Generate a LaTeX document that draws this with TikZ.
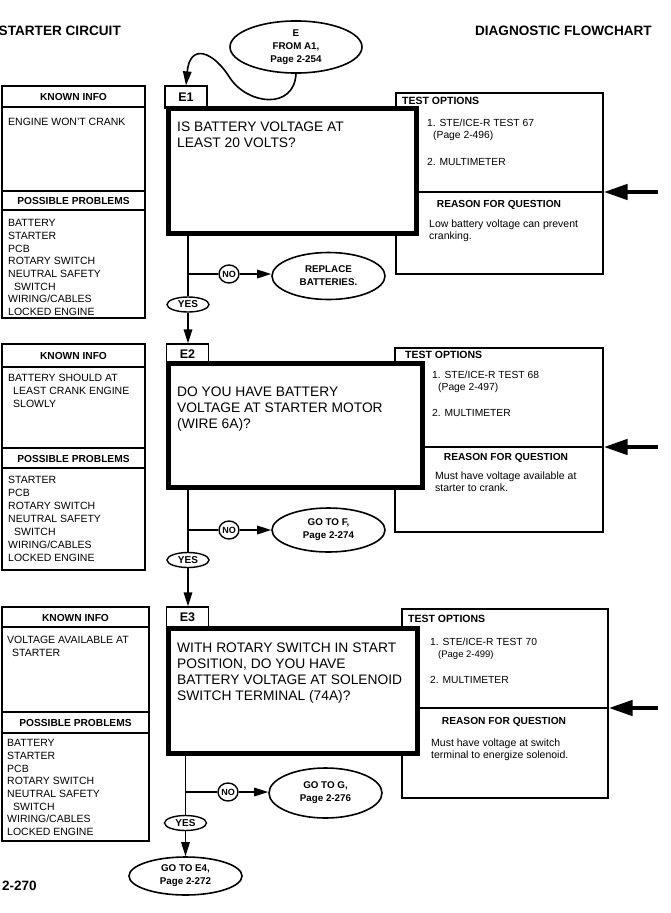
\documentclass[tikz,border=0pt]{standalone}
\usepackage{fontspec}
\setmainfont{Liberation Sans}
\usetikzlibrary{arrows.meta,shapes.geometric}
\begin{document}
\begin{tikzpicture}[x=1pt,y=-1pt,
  ln/.style={line width=1.2pt},
  conn/.style={line width=1.6pt},
  arr/.style={line width=1.6pt,-{Triangle[length=14pt,width=8.5pt]}},
  bigarr/.style={line width=4.5pt,-{Triangle[length=24pt,width=15pt]}},
  heavy/.style={draw,line width=5pt,fill=white,rectangle,inner sep=0},
  lab/.style={draw,line width=1.2pt,rectangle,inner sep=0,minimum width=42pt,font=\bfseries\fontsize{12.5}{14}\selectfont},
  tbox/.style={draw,line width=1.2pt,rectangle,inner sep=0},
  oval/.style={draw,line width=1.6pt,ellipse,inner sep=1pt,align=center,font=\bfseries\fontsize{9.8}{13}\selectfont},
  yesnode/.style={draw,line width=1.4pt,ellipse,inner sep=0,minimum width=42pt,minimum height=15pt,font=\bfseries\fontsize{10}{12}\selectfont},
  nonode/.style={draw,line width=1.4pt,ellipse,inner sep=0,minimum width=20pt,minimum height=18pt,font=\bfseries\fontsize{9}{11}\selectfont},
  hdr/.style={inner sep=0,font=\bfseries\fontsize{10.2}{12}\selectfont},
  thdr/.style={inner sep=0,anchor=west,font=\bfseries\fontsize{10.5}{12}\selectfont},
  body/.style={inner sep=0,anchor=north west,align=left,font=\fontsize{10.5}{12.7}\selectfont},
  opt/.style={inner sep=0,anchor=north west,align=left,font=\fontsize{10.3}{12}\selectfont},
  ques/.style={inner sep=0,anchor=north west,align=left,font=\fontsize{13.8}{15.7}\selectfont},
  ttl/.style={inner sep=0,font=\bfseries\fontsize{13.6}{16}\selectfont},
]
\useasboundingbox (0,0) rectangle (671,913);
\fill[white] (0,0) rectangle (671,913);

% titles
\node[ttl,anchor=west] (t_left) at (-1.5,31) {STARTER CIRCUIT};
\node[ttl,anchor=east] (t_right) at (652,31) {DIAGNOSTIC FLOWCHART};
\node[ttl,anchor=west,font=\bfseries\fontsize{13.5}{16}\selectfont] (pg) at (2,886) {2-270};

% ===== Section E1 =====
\draw[ln] (2,86) rectangle (145,318);
\draw[ln] (2,107) -- (145,107);
\draw[ln] (2,191) -- (145,191);
\draw[ln] (2,210) -- (145,210);
\node[hdr] (ki1) at (73.5,97) {KNOWN INFO};
\node[body] (kt1) at (8,118.2) {ENGINE WON'T CRANK};
\node[hdr] (pp1) at (73.5,200.5) {POSSIBLE PROBLEMS};
\node[body] (pl1) at (8,219.2) {BATTERY\\STARTER\\PCB\\ROTARY SWITCH\\NEUTRAL SAFETY\\\hspace*{6pt}SWITCH\\WIRING/CABLES\\LOCKED ENGINE};

\node[tbox,minimum width=207pt,minimum height=181pt] (t1) at (499.5,183.5) {};
\draw[ln] (396,192) -- (603,192);
\node[thdr] (to1) at (402,101) {TEST OPTIONS};
\node[opt] (o1) at (427,119.3) {1. STE/ICE-R TEST 67\\\hspace*{6pt}(Page 2-496)};
\node[opt] (m1) at (427,158.3) {2. MULTIMETER};
\node[hdr] (rq1) at (499,205) {REASON FOR QUESTION};
\node[body,font=\fontsize{10.5}{12}\selectfont] (rb1) at (429,219.2) {Low battery voltage can prevent\\cranking.};

\node[lab,minimum height=22pt] (l1) at (186,97) {E1};
\node[heavy,minimum width=248pt,minimum height=125pt] (q1) at (292,170.5) {};
\node[ques] (qt1) at (177,122.1) {IS BATTERY VOLTAGE AT\\LEAST 20 VOLTS?};

\node[oval,minimum width=132pt,minimum height=47pt] (st) at (296,47) {E\\FROM A1,\\Page 2-254};
\draw[arr] (st.south) .. controls (294,110) and (248,105) .. (230,78) .. controls (214,52) and (190,42) .. (l1.north);

\node[yesnode] (y1) at (188,304.5) {YES};
\node[nonode] (n1) at (229,274) {NO};
\node[oval,minimum width=113pt,minimum height=47pt] (r1) at (328.5,276) {REPLACE\\BATTERIES.};
\draw[conn] (q1.south -| y1) -- (y1.north);
\draw[conn] (y1 |- n1) -- (n1.west);
\draw[arr] (n1.east) -- (r1.west |- n1);
\coordinate (a1) at (658,192);
\draw[bigarr] (a1) -- (t1.east |- a1);

% ===== Section E2 =====
\draw[ln] (2,344) rectangle (145,570);
\draw[ln] (2,367) -- (145,367);
\draw[ln] (2,448) -- (145,448);
\draw[ln] (2,468) -- (145,468);
\node[hdr] (ki2) at (73.5,356) {KNOWN INFO};
\node[body] (kt2) at (8,374.2) {BATTERY SHOULD AT\\\hspace*{5pt}LEAST CRANK ENGINE\\\hspace*{5pt}SLOWLY};
\node[hdr] (pp2) at (73.5,458.5) {POSSIBLE PROBLEMS};
\node[body,font=\fontsize{10.5}{13}\selectfont] (pl2) at (8,476.2) {STARTER\\PCB\\ROTARY SWITCH\\NEUTRAL SAFETY\\\hspace*{6pt}SWITCH\\WIRING/CABLES\\LOCKED ENGINE};

\node[tbox,minimum width=208pt,minimum height=184pt] (t2) at (499,440) {};
\draw[ln] (395,447) -- (603,447);
\node[thdr] (to2) at (405,355) {TEST OPTIONS};
\node[opt] (o2) at (432,371.3) {1. STE/ICE-R TEST 68\\\hspace*{6pt}(Page 2-497)};
\node[opt] (m2) at (432,409.3) {2. MULTIMETER};
\node[hdr] (rq2) at (506,458) {REASON FOR QUESTION};
\node[body,font=\fontsize{10.5}{12}\selectfont] (rb2) at (435,471.2) {Must have voltage available at\\starter to crank.};

\node[lab,minimum height=20pt] (l2) at (187.5,354) {E2};
\node[heavy,minimum width=254pt,minimum height=124pt] (q2) at (295,425) {};
\node[ques] (qt2) at (177,387.1) {DO YOU HAVE BATTERY\\VOLTAGE AT STARTER MOTOR\\(WIRE 6A)?};

\node[yesnode] (y2) at (188,560) {YES};
\node[nonode] (n2) at (229,530) {NO};
\node[oval,minimum width=113pt,minimum height=44pt] (r2) at (328.5,530) {GO TO F,\\Page 2-274};
\draw[arr] (y1.south) -- (y1.south |- l2.north);
\draw[conn] (q2.south -| y2) -- (y2.north);
\draw[conn] (y2 |- n2) -- (n2.west);
\draw[arr] (n2.east) -- (r2.west |- n2);
\coordinate (a2) at (658,447);
\draw[bigarr] (a2) -- (t2.east |- a2);

% ===== Section E3 =====
\draw[ln] (2,607) rectangle (149,841);
\draw[ln] (2,627) -- (149,627);
\draw[ln] (2,712) -- (149,712);
\draw[ln] (2,733) -- (149,733);
\node[hdr] (ki3) at (75.5,617.5) {KNOWN INFO};
\node[body] (kt3) at (7,636.2) {VOLTAGE AVAILABLE AT\\\hspace*{5pt}STARTER};
\node[hdr] (pp3) at (75.5,722.5) {POSSIBLE PROBLEMS};
\node[body] (pl3) at (7,739.2) {BATTERY\\STARTER\\PCB\\ROTARY SWITCH\\NEUTRAL SAFETY\\\hspace*{6pt}SWITCH\\WIRING/CABLES\\LOCKED ENGINE};

\node[tbox,minimum width=206pt,minimum height=189pt] (t3) at (505,703.5) {};
\draw[ln] (402,708) -- (608,708);
\node[thdr] (to3) at (408,619) {TEST OPTIONS};
\node[opt] (o3) at (430,638.3) {1. STE/ICE-R TEST 70\\\hspace*{8pt}{\fontsize{9.5}{12}\selectfont(Page 2-499)}};
\node[opt] (m3) at (430,676.3) {2. MULTIMETER};
\node[hdr] (rq3) at (504,722) {REASON FOR QUESTION};
\node[body,font=\fontsize{10.5}{12}\selectfont] (rb3) at (431,738.2) {Must have voltage at switch\\terminal to energize solenoid.};

\node[lab,minimum height=21pt] (l3) at (187.5,617.5) {E3};
\node[heavy,minimum width=249pt,minimum height=125pt] (q3) at (292.5,690.5) {};
\node[ques] (qt3) at (177,643.1) {WITH ROTARY SWITCH IN START\\POSITION, DO YOU HAVE\\BATTERY VOLTAGE AT SOLENOID\\SWITCH TERMINAL (74A)?};

\node[yesnode] (y3) at (185.5,823) {YES};
\node[nonode] (n3) at (228,792) {NO};
\node[oval,minimum width=113pt,minimum height=50pt] (r3) at (325.5,793) {GO TO G,\\Page 2-276};
\node[oval,minimum width=113pt,minimum height=38pt] (e4) at (185.5,876) {GO TO E4,\\Page 2-272};
\draw[arr] (y2.south) -- (y2.south |- l3.north);
\draw[conn] (q3.south -| y3) -- (y3.north);
\draw[conn] (y3 |- n3) -- (n3.west);
\draw[arr] (n3.east) -- (r3.west |- n3);
\draw[arr] (y3.south) -- (e4.north);
\coordinate (a3) at (658,708);
\draw[bigarr] (a3) -- (t3.east |- a3);
\end{tikzpicture}
\end{document}
